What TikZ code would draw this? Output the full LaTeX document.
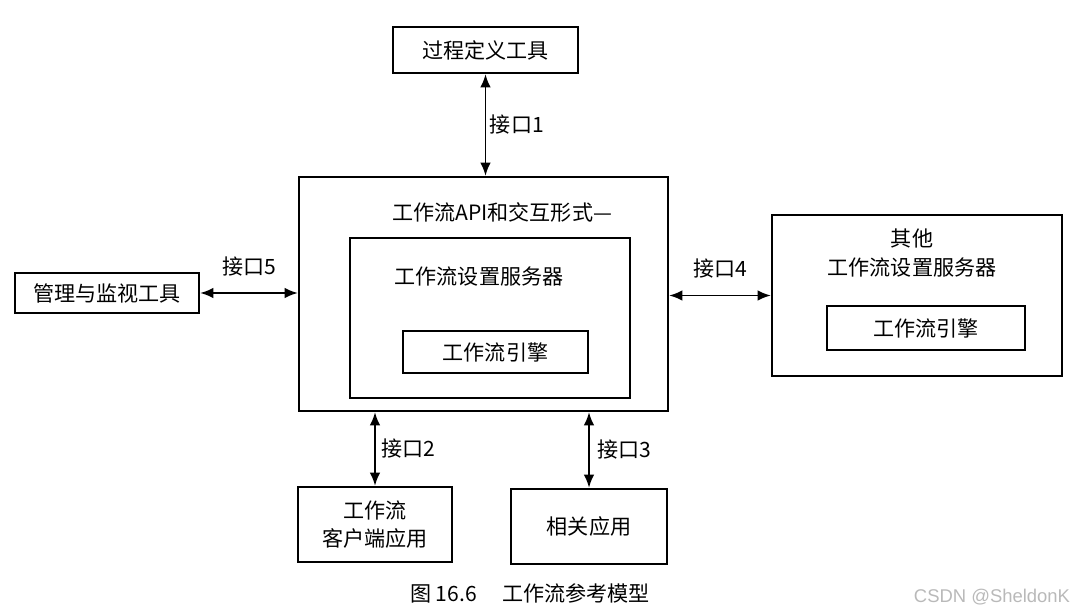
\documentclass[tikz,border=0pt]{standalone}
\usepackage{fontspec}
\newfontfamily\cjk{Noto Sans CJK SC}
\newfontfamily\wmfont{Liberation Sans}
\usetikzlibrary{arrows.meta}

\tikzset{
    box/.style={draw, line width=1.3pt, inner sep=0pt, align=center},
    lbl/.style={inner sep=0pt},
    iface/.style={{Latex[length=7.5pt,width=6pt]}-{Latex[length=7.5pt,width=6pt]}, line width=1.1pt},
}

\begin{document}
\begin{tikzpicture}[x=0.02cm, y=-0.02cm, font=\cjk\fontsize{12}{15}\selectfont]
        \useasboundingbox (0,0) rectangle (1077,614);

        % blocco centrale
        \node[box, minimum width=7.38cm, minimum height=4.68cm] (api) at (483.5,294) {};
        \node[lbl] (apititle) at (502,212) {工作流API和交互形式—};
        \node[box, minimum width=5.6cm, minimum height=3.2cm] (server) at (490,318) {};
        \node[lbl] (servertitle) at (479,277) {工作流设置服务器};
        \node[box, minimum width=3.7cm, minimum height=0.84cm] (engine) at (495.5,352) {工作流引擎};

        % altri blocchi
        \node[box, minimum width=3.7cm, minimum height=0.92cm] (def) at (485.5,50) {过程定义工具};
        \node[box, minimum width=3.68cm, minimum height=0.8cm] (mgr) at (107,293) {管理与监视工具};
        \node[box, minimum width=5.8cm, minimum height=3.22cm] (other) at (917,295.5) {};
        \node[lbl, align=center] (othertitle) at (912,253) {其他\\[2pt]工作流设置服务器};
        \node[box, minimum width=3.96cm, minimum height=0.88cm] (otherengine) at (926,328) {工作流引擎};
        \node[box, minimum width=3.08cm, minimum height=1.5cm] (client) at (375,524.5) {工作流\\[1pt]客户端应用};
        \node[box, minimum width=3.12cm, minimum height=1.5cm] (related) at (589,526.5) {相关应用};

        % interfacce
        \draw[iface] (def.south) -- (def.south |- api.north) node[lbl, midway, right=2pt] (if1) {接口1};
        \draw[iface] (mgr.east) -- (mgr.east -| api.west) node[lbl, midway, above=9pt] (if5) {接口5};
        \draw[iface] (api.east |- other.west) -- (other.west) node[lbl, midway, above=9pt] (if4) {接口4};
        \draw[iface] (client.north |- api.south) -- (client.north) node[lbl, midway, right=3pt] (if2) {接口2};
        \draw[iface] (related.north |- api.south) -- (related.north) node[lbl, midway, right=4pt] (if3) {接口3};

        % didascalia
        \node[lbl] (caption) at (530,593) {图 16.6\hspace{1.2em}工作流参考模型};
        \node[lbl, font=\wmfont\fontsize{10.5}{12}\selectfont, text=gray!55] (wm) at (992,597) {CSDN @SheldonK};
\end{tikzpicture}
\end{document}
